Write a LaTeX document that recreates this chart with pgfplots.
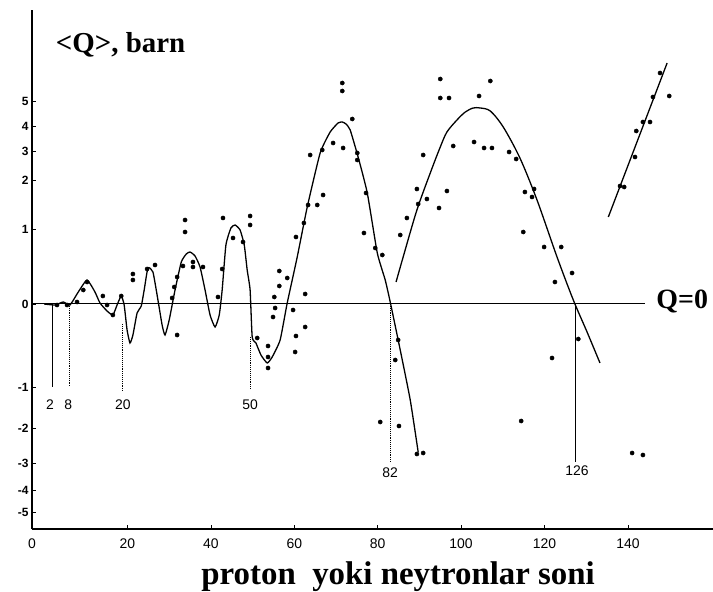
\documentclass[border=0pt]{standalone}
\usepackage{pgfplots}
\pgfplotsset{compat=1.18}
\usepackage{fontspec}
\setmainfont{Liberation Serif}
\newfontfamily\sansf{Liberation Sans}
\begin{document}
\begin{tikzpicture}
\begin{axis}[
  at={(0,0)}, anchor=south west,
  scale only axis, width=681bp, height=519bp,
  xmin=-2.9, xmax=160.4, ymin=-225, ymax=294,
  axis x line=bottom, axis y line=left,
  axis line style={-, line width=1.1pt},
  xtick={-2.9,20,40,60,80,100,120,140},
  xticklabels={0,20,40,60,80,100,120,140},
  ytick={203,178,153,124,75,0,-83,-124,-159,-186,-208},
  yticklabels={5,4,3,2,1,0,-1,-2,-3,-4,-5},
  tick align=inside, major tick length=4bp,
  tick style={black, line width=0.8pt},
  xticklabel style={font=\sansf\fontsize{14}{14}\selectfont, yshift=-6bp},
  yticklabel style={font=\sansf\bfseries\fontsize{12}{12}\selectfont},
  clip=false,
]
% fitted curves
\addplot[black, line width=1.3pt, smooth, tension=0.3] coordinates {
(0.0,0) (2.6,-1) (4.6,2) (6.2,-1) (8.2,12) (10.3,24) (12.2,12) (13.4,1)
(15.1,-7) (16.5,-11) (17.5,-1) (18.5,8) (19.2,-1) (19.9,-26) (20.6,-39)
(21.3,-31) (22.3,-9) (23.3,-2) (24.0,14) (24.9,36) (26.1,32) (27.3,4)
(28.3,-21) (29.0,-31) (30.0,-16) (31.4,14) (32.9,42) (34.1,50) (35.0,52)
(36.2,48) (37.4,37) (38.6,14) (39.8,-11) (41.0,-23) (42.0,-11) (42.7,14)
(43.6,59) (44.8,76) (45.8,79) (47.0,74) (48.0,59) (48.7,34) (49.4,14)
(49.9,-33) (50.8,-39) (52.0,-51) (53.5,-59) (54.7,-53) (56.6,-36) (58.3,1)
(60.7,47) (63.1,97) (66.2,151) (68.6,172) (70.5,181) (71.5,182) (72.4,180)
(73.4,174) (75.3,147) (77.5,111) (79.9,51) (81.8,24) (83.0,2) (85.4,-46)
(87.8,-96) (89.7,-148)
};
\addplot[black, line width=1.3pt, smooth] coordinates {
(84.4,22) (86.1,47) (89.4,94) (92.6,131) (95.0,157) (96.6,172) (99.0,184)
(101.0,192) (102.9,196) (104.6,196) (107.0,193) (110.1,177) (114.1,146)
(118.2,104) (123.0,47) (126.9,4) (130.2,-28) (133.3,-59)
};
\addplot[black, line width=1.3pt] coordinates {(135.3,87) (149.4,241)};
% Q=0 line
\addplot[black, line width=1pt] coordinates {(-2.9,0) (144.2,0)};
% magic numbers
\addplot[black, line width=0.9pt] coordinates {(1.9,0) (1.9,-83)};
\addplot[black, line width=0.9pt, densely dotted] coordinates {(6.0,0) (6.0,-83)};
\addplot[black, line width=0.9pt, densely dotted] coordinates {(18.9,-20) (18.9,-87)};
\addplot[black, line width=0.9pt, densely dotted] coordinates {(49.4,-33) (49.4,-86)};
\addplot[black, line width=0.9pt, densely dotted] coordinates {(83.0,0) (83.0,-158)};
\addplot[black, line width=0.9pt] coordinates {(127.3,0) (127.3,-158)};
% measured points
\addplot[only marks, mark=*, mark size=2.1pt, black] coordinates {
(3.1,-1) (5.5,-1) (7.9,2) (9.4,14) (10.3,22) (14.1,8) (15.1,-1) (16.5,-11)
(18.5,8) (21.3,30) (21.3,24) (24.7,35) (26.6,39) (31.2,17) (31.9,27)
(31.9,-31) (30.7,6) (33.8,84) (33.8,72) (33.3,38) (35.7,42) (35.7,37)
(38.1,37) (42.7,35) (41.7,7) (42.9,86) (45.3,66) (47.7,62) (49.4,88)
(49.4,79) (51.1,-34) (53.7,-42) (53.7,-53) (53.7,-64) (56.4,33) (56.4,18)
(58.3,26) (55.2,7) (55.4,-4) (54.9,-13) (59.7,-6) (60.4,-32) (62.6,10)
(62.6,-23) (60.2,-48) (60.4,67) (62.3,81) (63.3,99) (65.5,99) (66.9,109)
(63.8,149) (66.7,154) (69.3,161) (71.7,156) (71.5,221) (71.5,213)
(73.9,185) (75.1,151) (75.1,144) (77.2,111) (76.7,71) (79.4,56) (81.1,49)
(80.6,-118) (85.1,-122) (84.2,-56) (84.9,-36) (89.4,-150) (90.9,-149)
(85.4,69) (87.0,86) (89.4,115) (89.7,100) (91.8,105) (94.7,96) (90.9,149)
(96.6,113) (98.1,158) (95.0,225) (95.0,206) (97.1,206) (107.0,223)
(104.3,208) (103.1,162) (105.5,156) (107.4,156) (111.5,152) (113.2,145)
(115.3,112) (117.5,115) (117.0,107) (114.9,72) (119.9,57) (124.0,57)
(126.6,31) (122.5,22) (128.1,-35) (121.8,-54) (114.4,-117) (141.0,-149)
(143.6,-151) (147.7,231) (146.0,207) (149.9,208) (143.6,182) (145.3,182)
(142.0,173) (141.7,147) (139.1,117) (138.1,118)
};
% texts
\node[anchor=west, font=\bfseries\fontsize{29}{29}\selectfont] at (axis cs:2.0,259) {<Q>, barn};
\node[anchor=west, font=\bfseries\fontsize{28}{28}\selectfont] at (axis cs:146.0,3) {Q=0};
\node[font=\bfseries\fontsize{33}{33}\selectfont] at (axis cs:84.9,-273) {proton\ \ yoki neytronlar soni};
\begin{scope}[font=\sansf\fontsize{14}{14}\selectfont]
\node at (axis cs:1.4,-101) {2};
\node at (axis cs:5.8,-101) {8};
\node at (axis cs:18.9,-101) {20};
\node at (axis cs:49.4,-101) {50};
\node at (axis cs:83.0,-169) {82};
\node at (axis cs:127.8,-167) {126};
\end{scope}
\end{axis}
\pgfresetboundingbox
\useasboundingbox (-32bp,-63bp) rectangle (681bp,529bp);
\end{tikzpicture}
\end{document}
